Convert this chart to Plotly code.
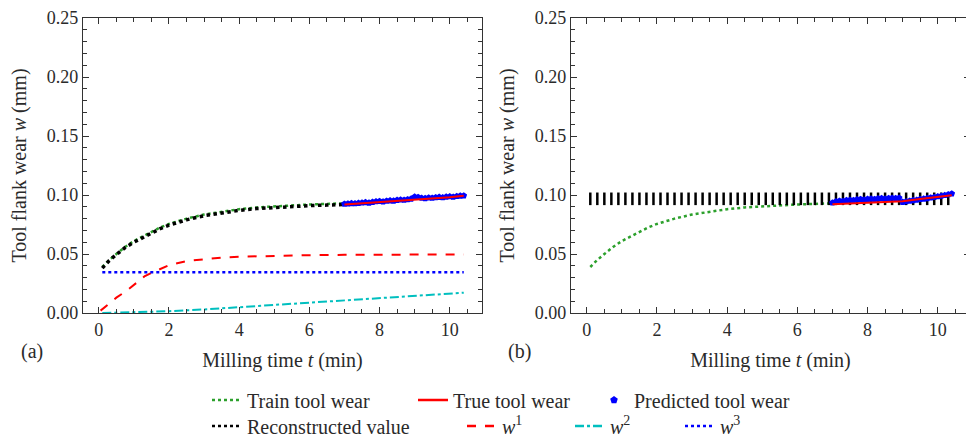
import plotly.graph_objects as go

# ---------------- data ----------------
train_t = [0.1, 0.3, 0.5, 0.75, 1.0, 1.25, 1.5, 1.75, 2.0, 2.5, 3.0, 3.5, 4.0, 4.5, 5.0, 5.5, 6.0, 6.5, 7.0]
train_w = [0.039, 0.045, 0.050, 0.056, 0.061, 0.065, 0.069, 0.0725, 0.0755, 0.080, 0.0835, 0.086, 0.088,
           0.0895, 0.0905, 0.0915, 0.092, 0.0925, 0.093]

rec_a_t = train_t
rec_a_w = [0.038, 0.0445, 0.0495, 0.0555, 0.060, 0.064, 0.068, 0.0715, 0.0745, 0.079, 0.0825, 0.085, 0.087,
           0.0885, 0.0895, 0.0905, 0.091, 0.0915, 0.092]

rec_b_t = [0.1, 0.3, 0.5, 0.7, 0.9, 1.1, 1.3, 1.5, 1.7, 1.9, 2.1, 2.3, 2.5, 2.7, 2.9, 3.1, 3.3, 3.5, 3.7, 3.9,
           4.1, 4.3, 4.5, 4.7, 4.9, 5.1, 5.3, 5.5, 5.7, 5.9, 6.1, 6.3, 6.5, 6.7, 6.9, 7.1, 7.3, 7.5, 7.7, 7.9,
           8.1, 8.3, 8.5, 8.7, 8.9, 9.1, 9.3, 9.5, 9.7, 9.9, 10.1, 10.3]
rec_b_w = [0.0968, 0.0968, 0.0968, 0.0968, 0.0968, 0.0968, 0.0968, 0.0968, 0.0968, 0.0968, 0.0968, 0.0968,
           0.0968, 0.0968, 0.0968, 0.0968, 0.0968, 0.0968, 0.0968, 0.0968, 0.0968, 0.0968, 0.0968, 0.0968,
           0.0968, 0.0968, 0.0968, 0.0968, 0.0968, 0.0968, 0.0968, 0.0968, 0.0968, 0.0968, 0.0968, 0.0968,
           0.0968, 0.0968, 0.0968, 0.0968, 0.0968, 0.0968, 0.0968, 0.0968, 0.0968, 0.0968, 0.0968, 0.0968,
           0.0968, 0.0968, 0.0968, 0.0968]

true_t = [7.0, 7.5, 8.0, 8.5, 9.0, 9.5, 10.0, 10.4]
true_a_w = [0.092, 0.093, 0.094, 0.095, 0.096, 0.097, 0.0982, 0.0995]
true_b_w = [0.0923, 0.0929, 0.0935, 0.0940, 0.0947, 0.0966, 0.0984, 0.0999]

pred_t = [7.0, 7.1, 7.2, 7.3, 7.4, 7.5, 7.6, 7.7, 7.8, 7.9, 8.0, 8.1, 8.2, 8.3, 8.4, 8.5, 8.6, 8.7, 8.8, 8.9,
          9.0, 9.1, 9.2, 9.3, 9.4, 9.5, 9.6, 9.7, 9.8, 9.9, 10.0, 10.1, 10.2, 10.3, 10.4]
pred_a_w = [0.0925, 0.0927, 0.0930, 0.0928, 0.0932, 0.0935, 0.0938, 0.0934, 0.0940, 0.0945, 0.0948, 0.0944,
            0.0950, 0.0953, 0.0951, 0.0957, 0.0960, 0.0958, 0.0963, 0.0968, 0.0985, 0.0982, 0.0975, 0.0972,
            0.0978, 0.0975, 0.0980, 0.0983, 0.0979, 0.0985, 0.0988, 0.0984, 0.0990, 0.0993, 0.0995]
pred_b_w = [0.0935, 0.0945, 0.0950, 0.0948, 0.0955, 0.0958, 0.0955, 0.0962, 0.0965, 0.0960, 0.0966, 0.0968,
            0.0965, 0.0970, 0.0972, 0.0968, 0.0973, 0.0975, 0.0972, 0.0976, 0.0940, 0.0945, 0.0950, 0.0955,
            0.0958, 0.0965, 0.0968, 0.0972, 0.0978, 0.0982, 0.0988, 0.0992, 0.0998, 0.1005, 0.1012]

w1_t = [0.05, 0.5, 0.8, 1.0, 1.3, 1.5, 2.0, 2.5, 3.0, 3.5, 4.0, 5.0, 6.0, 7.0, 8.0, 9.0, 10.4]
w1_w = [0.002, 0.013, 0.019, 0.024, 0.031, 0.034, 0.0405, 0.0440, 0.0458, 0.0470, 0.0477, 0.0485, 0.0490,
        0.0493, 0.0495, 0.0496, 0.0497]
w2_t = [0.1, 1.0, 2.0, 3.0, 4.0, 5.0, 6.0, 7.0, 8.0, 9.0, 10.4]
w2_w = [0.0, 0.0005, 0.0015, 0.003, 0.005, 0.0068, 0.0087, 0.0105, 0.0125, 0.0145, 0.0172]
w3_t = [0.1, 10.4]
w3_w = [0.0345, 0.0345]

xticks = [0, 2, 4, 6, 8, 10]
yticks = [0.00, 0.05, 0.10, 0.15, 0.20, 0.25]

# ---------------- style ----------------
FONT = "Liberation Serif"
TXT = "#2a2a2a"
GREEN = "#2ca02c"
RED = "#ff0000"
BLUE = "#0000ff"
CYAN = "#00bfbf"
BLACK = "#000000"

fig = go.Figure()

def add_panel(xa, ya, rec_kind):
    fig.add_trace(go.Scatter(x=train_t, y=train_w, mode="lines", xaxis=xa, yaxis=ya, showlegend=False,
                             line=dict(color=GREEN, dash="dot", width=2.5)))
    if rec_kind == "a":
        fig.add_trace(go.Scatter(x=rec_a_t, y=rec_a_w, mode="lines", xaxis=xa, yaxis=ya, showlegend=False,
                                 line=dict(color=BLACK, dash="dot", width=3.5)))
    else:
        fig.add_trace(go.Scatter(x=rec_b_t, y=rec_b_w, mode="markers", xaxis=xa, yaxis=ya, showlegend=False,
                                 marker=dict(symbol="line-ns", size=9,
                                             line=dict(color=BLACK, width=2.5))))
    pw = pred_a_w if rec_kind == "a" else pred_b_w
    tw = true_a_w if rec_kind == "a" else true_b_w
    fig.add_trace(go.Scatter(x=pred_t, y=pw, mode="markers", xaxis=xa, yaxis=ya, showlegend=False,
                             marker=dict(symbol="pentagon", size=7, color=BLUE)))
    fig.add_trace(go.Scatter(x=true_t, y=tw, mode="lines", xaxis=xa, yaxis=ya, showlegend=False,
                             line=dict(color=RED, width=2)))

add_panel("x", "y", "a")
fig.add_trace(go.Scatter(x=w1_t, y=w1_w, mode="lines", showlegend=False,
                         line=dict(color=RED, dash="dash", width=2)))
fig.add_trace(go.Scatter(x=w2_t, y=w2_w, mode="lines", showlegend=False,
                         line=dict(color=CYAN, dash="dashdot", width=2)))
fig.add_trace(go.Scatter(x=w3_t, y=w3_w, mode="lines", showlegend=False,
                         line=dict(color=BLUE, dash="dot", width=2.5)))
add_panel("x2", "y2", "b")

leg_items = [
    ("Train tool wear", dict(mode="lines", line=dict(color=GREEN, dash="dot", width=2.5))),
    ("True tool wear", dict(mode="lines", line=dict(color=RED, width=2.5))),
    ("Predicted tool wear", dict(mode="markers", marker=dict(symbol="pentagon", size=8, color=BLUE))),
    ("Reconstructed value", dict(mode="lines", line=dict(color=BLACK, dash="dot", width=2.5))),
    ("<i>w</i><sup>1</sup>", dict(mode="lines", line=dict(color=RED, dash="dash", width=2.5))),
    ("<i>w</i><sup>2</sup>", dict(mode="lines", line=dict(color=CYAN, dash="dashdot", width=2.5))),
    ("<i>w</i><sup>3</sup>", dict(mode="lines", line=dict(color=BLUE, dash="dot", width=2.5))),
]
leg_pos = [(247, 400), (453, 400), (634, 400), (247, 426), (502, 426), (610, 426), (720, 426)]

OFF = 8  # page body margin
W, H = 974 - OFF, 438 - OFF
L, R, T, B = 83 - OFF, 4, 18 - OFF, H - (313 - OFF)
PW = W - L - R
PH = H - T - B

def px2x(px):
    return (px - OFF - L) / PW

def py2y(py):
    return (H - B - (py - OFF)) / PH

layout_legends = {}
for i, ((name, kw), (tx, ty)) in enumerate(zip(leg_items, leg_pos)):
    key = "legend" if i == 0 else f"legend{i + 1}"
    fig.add_trace(go.Scatter(x=[None], y=[None], name=name, showlegend=True,
                             legend=key, **kw))
    layout_legends[key] = dict(x=px2x(tx - 40), y=py2y(ty), xanchor="left", yanchor="middle",
                               orientation="h", bgcolor="rgba(0,0,0,0)",
                               font=dict(family=FONT, size=20, color=TXT))

axis_common = dict(showline=True, linecolor="#333333", linewidth=1.2, mirror="allticks",
                   ticks="inside", ticklen=6, tickwidth=1, tickcolor="#333333",
                   showgrid=False, zeroline=False, automargin=False, ticklabeloverflow="allow")
xcommon = dict(axis_common, range=[-0.45, 10.92], tickvals=xticks,
               minor=dict(dtick=0.5, tick0=0, ticks="inside", ticklen=3.5, tickcolor="#333333", showgrid=False),
               title=dict(text="Milling time <i>t</i> (min)", standoff=14))
ycommon = dict(axis_common, range=[0, 0.2501], tickvals=yticks, tickformat=".2f",
               minor=dict(dtick=0.01, tick0=0, ticks="inside", ticklen=3.5, tickcolor="#333333", showgrid=False),
               title=dict(text="Tool flank wear <i>w</i> (mm)", standoff=14))

fig.update_layout(
    template="none",
    width=W, height=H,
    margin=dict(l=L, r=R, t=T, b=B, autoexpand=False),
    plot_bgcolor="white", paper_bgcolor="white",
    font=dict(family=FONT, color=TXT, size=18),
    xaxis=dict(xcommon, domain=[0, (482 - OFF - L) / PW], anchor="y"),
    yaxis=dict(ycommon, domain=[0, 1], anchor="x"),
    xaxis2=dict(xcommon, domain=[(571 - OFF - L) / PW, 1], anchor="y2"),
    yaxis2=dict(ycommon, domain=[0, 1], anchor="x2"),
    annotations=[
        dict(text="(a)", x=px2x(32), y=py2y(351), xref="paper", yref="paper", showarrow=False,
             xanchor="center", yanchor="middle", font=dict(family=FONT, size=20, color=TXT)),
        dict(text="(b)", x=px2x(519), y=py2y(351), xref="paper", yref="paper", showarrow=False,
             xanchor="center", yanchor="middle", font=dict(family=FONT, size=20, color=TXT)),
    ],
    **layout_legends,
)
fig.update_xaxes(tickfont=dict(family=FONT, size=18, color=TXT),
                 title_font=dict(family=FONT, size=20, color=TXT))
fig.update_yaxes(tickfont=dict(family=FONT, size=18, color=TXT),
                 title_font=dict(family=FONT, size=20, color=TXT))

fig.write_html("out.html")
